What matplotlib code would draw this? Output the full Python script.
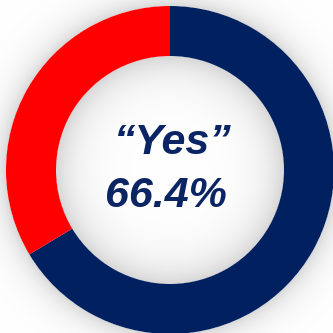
import numpy as np
import matplotlib
matplotlib.use("Agg")
import matplotlib.pyplot as plt

# share of answers
labels = ["Yes", "No"]
shares = [66.4, 33.6]
colors = ["#002060", "#FF0000"]
headline = ["\u201cYes\u201d", "66.4%"]

W = H = 333
cx, cy = 170, 163          # ring centre (pixel units, y up)
r_out = 164
ring_w = 50
r_in = r_out - ring_w

fig = plt.figure(figsize=(W / 100, H / 100), dpi=100)
ax = fig.add_axes([0, 0, 1, 1])

# soft drop shadow around the ring and inside the hole
yy, xx = np.mgrid[0:H, 0:W] + 0.5
rr = np.hypot(xx - cx, yy - cy)
shade = np.zeros_like(rr)
outside = rr > r_out
shade[outside] = 0.15 * np.exp(-(rr[outside] - r_out) / 13.0)
inside = rr < r_in
shade[inside] = 0.16 * np.exp(-(r_in - rr[inside]) / 20.0)
gray = 1 - shade
img = np.dstack([gray, gray, gray])
ax.imshow(img, extent=(0, W, 0, H), origin="lower", zorder=0, interpolation="bilinear")

ax.pie(shares, colors=colors, startangle=90, counterclock=False,
       center=(cx, cy), radius=r_out,
       wedgeprops=dict(width=ring_w, linewidth=0), frame=True)
ax.set_xlim(0, W)
ax.set_ylim(0, H)
ax.set_aspect("equal")
ax.axis("off")

txt = dict(ha="center", va="center", color="#0B2463", fontsize=31,
           fontweight="bold", fontstyle="italic", family="Liberation Sans", zorder=5)
ax.text(cx + 2, cy + 27, headline[0], **txt)
ax.text(cx - 4, cy - 26, headline[1], **txt)

fig.savefig("out.png", dpi=100)
